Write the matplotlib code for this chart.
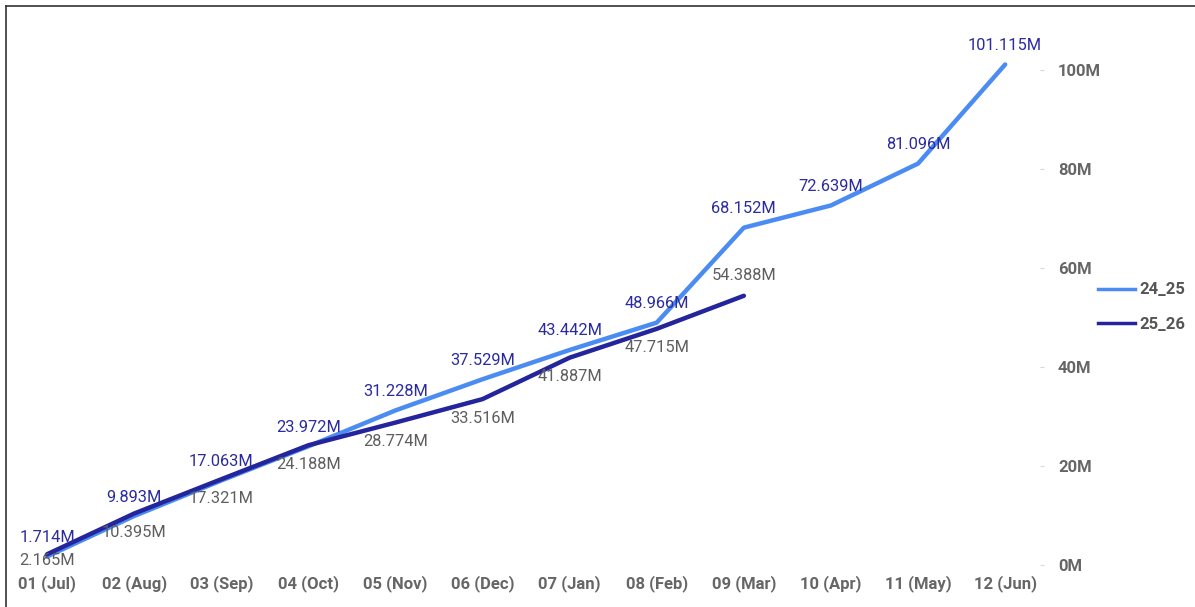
import matplotlib
matplotlib.use("Agg")
import matplotlib.pyplot as plt
from matplotlib.lines import Line2D
from matplotlib.ticker import FuncFormatter

# ---- data ----
categories = ["01 (Jul)", "02 (Aug)", "03 (Sep)", "04 (Oct)", "05 (Nov)", "06 (Dec)",
              "07 (Jan)", "08 (Feb)", "09 (Mar)", "10 (Apr)", "11 (May)", "12 (Jun)"]
series_2425 = [1.714, 9.893, 17.063, 23.972, 31.228, 37.529, 43.442, 48.966,
               68.152, 72.639, 81.096, 101.115]
series_2526 = [2.165, 10.395, 17.321, 24.188, 28.774, 33.516, 41.887, 47.715, 54.388]
y_ticks = [0, 20, 40, 60, 80, 100]

plt.rcParams['font.family'] = ['Roboto', 'DejaVu Sans']

W, H, DPI = 1195, 607, 100
fig = plt.figure(figsize=(W / DPI, H / DPI), dpi=DPI)
fig.patch.set_facecolor('white')

# axes placement (pixels)
ax_left, ax_right = 8, 1040
ax_bottom_px, ax_top_px = 565, 20  # from top
ax = fig.add_axes([ax_left / W, (H - ax_bottom_px) / H,
                   (ax_right - ax_left) / W, (ax_bottom_px - ax_top_px) / H])

c_light = '#4A8CF2'
c_dark = '#24249C'
lab_blue = '#2B2BA0'
lab_gray = '#5E5E5E'

x1 = list(range(len(series_2425)))
x2 = list(range(len(series_2526)))
ax.plot(x1, series_2425, color=c_light, lw=3.2, solid_capstyle='round',
        solid_joinstyle='round', label='24_25', zorder=3)
ax.plot(x2, series_2526, color=c_dark, lw=3.2, solid_capstyle='round',
        solid_joinstyle='round', label='25_26', zorder=4)

px2pt = 72 / DPI
for xi, v in zip(x1, series_2425):
    ax.annotate(f"{v:.3f}M", (xi, v), xytext=(0, 19 * px2pt), textcoords='offset points',
                ha='center', va='center', fontsize=11.8, color=lab_blue, zorder=6)

dy_2526 = [-6, -19, -19, -19, -19, -19, -19, -19, 20]
for xi, v, dy in zip(x2, series_2526, dy_2526):
    ax.annotate(f"{v:.3f}M", (xi, v), xytext=(0, dy * px2pt), textcoords='offset points',
                ha='center', va='center', fontsize=11.8, color=lab_gray, zorder=6)

ax.set_xlim(-0.448, 11.40)
ax.set_ylim(0, (ax_bottom_px - ax_top_px) / 4.95)

ax.set_xticks(range(len(categories)))
ax.set_xticklabels(categories)
ax.set_yticks(y_ticks)
ax.yaxis.set_major_formatter(FuncFormatter(lambda v, p: f"{int(v)}M"))
ax.yaxis.tick_right()

for s in ax.spines.values():
    s.set_visible(False)

ax.tick_params(axis='x', length=0, pad=7, labelsize=12, labelcolor='#666666')
ax.tick_params(axis='y', length=3, width=0.8, color='#d8d8d8', pad=10,
               labelsize=12, labelcolor='#666666')
for t in ax.get_xticklabels() + ax.get_yticklabels():
    t.set_fontweight('bold')

leg = fig.legend(handles=[Line2D([0], [0], color=c_light, lw=2.5),
                          Line2D([0], [0], color=c_dark, lw=2.5)],
                 labels=['24_25', '25_26'], loc='center left',
                 bbox_to_anchor=(1083 / W, (H - 307) / H), frameon=False,
                 handlelength=2.2, handletextpad=0.3, labelspacing=1.15,
                 prop={'size': 12, 'weight': 'bold'})
for t in leg.get_texts():
    t.set_color('#555555')

# figure border (top and left)
fig.add_artist(Line2D([6 / W, 1.0], [(H - 6) / H, (H - 6) / H],
                      transform=fig.transFigure, color='#333333', lw=1.2))
fig.add_artist(Line2D([6 / W, 6 / W], [0, (H - 6) / H],
                      transform=fig.transFigure, color='#333333', lw=1.2))

fig.savefig('out.png', dpi=DPI, facecolor='white')
